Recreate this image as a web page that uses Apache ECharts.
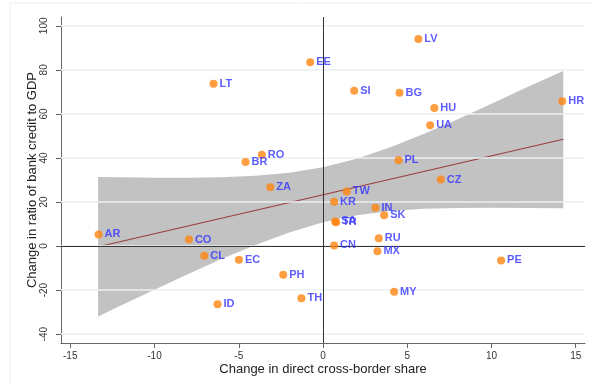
<!DOCTYPE html>
<html><head><meta charset="utf-8">
<script src="https://cdn.jsdelivr.net/npm/echarts@6/dist/echarts.min.js"></script>
<style>html,body{margin:0;padding:0;background:#fff}#c{width:592px;height:383px}</style>
</head><body><div id="c"></div>
<script>
const countries = ['LT','LV','EE','SI','BG','HU','UA','HR','RO','BR','PL','CZ','ZA','TW','KR','IN','SK','SA','TR','AR','CO','RU','CN','CL','MX','EC','PE','PH','MY','TH','ID'];
const xs = [-6.5,5.66,-0.76,1.85,4.54,6.61,6.36,14.2,-3.63,-4.6,4.48,6.99,-3.13,1.41,0.66,3.11,3.63,0.72,0.78,-13.32,-7.96,3.31,0.66,-7.05,3.23,-4.99,10.57,-2.36,4.22,-1.28,-6.26];
const ys = [73.7,94.0,83.5,70.5,69.6,62.7,54.8,65.7,41.5,38.2,39.0,30.2,26.7,24.8,20.1,17.4,14.0,11.2,10.8,5.3,3.0,3.5,0.3,-4.4,-2.4,-6.2,-6.5,-13.0,-20.7,-23.7,-26.4];
const fitX = [-13.35, 14.26];
const fitY = [-0.3, 48.5];
const bandX = [-13.35,-12,-10,-8,-6,-4,-2,0,2,4,6,8,10,12,14.26];
const bandLower = [-32.0,-27.0,-19.8,-12.7,-5.8,0.5,6.2,10.8,14.0,15.9,16.9,17.3,17.4,17.3,17.2];
const bandUpper = [31.4,31.2,31.0,31.0,31.2,31.9,33.3,35.8,39.7,44.9,51.0,57.6,64.6,71.8,79.5];
const xTicks = [-15,-10,-5,0,5,10,15];
const yTicks = [-40,-20,0,20,40,60,80,100];

const chart = echarts.init(document.getElementById('c'));
const font = 'Liberation Sans, Arial, Helvetica, sans-serif';
chart.setOption({
  animation: false,
  backgroundColor: '#fff',
  graphic: [{type:'rect', shape:{x:10, y:3, width:700, height:500}, style:{fill:'none', stroke:'#e9eff1', lineWidth:1}, z:-10, silent:true}],
  grid: {left:61, right:7, top:17, bottom:40, containLabel:false},
  xAxis: {
    type:'value', min:-15.55, max:15.55,
    name:'Change in direct cross-border share', nameLocation:'middle', nameGap:20,
    nameMoveOverlap:false,
    nameTextStyle:{fontFamily:font, fontSize:13, color:'#222'},
    axisLine:{show:true, onZero:false, lineStyle:{color:'#666', width:1}},
    axisTick:{show:true, length:5, customValues:xTicks, lineStyle:{color:'#666'}},
    axisLabel:{customValues:xTicks, fontFamily:font, fontSize:10, color:'#333', margin:8},
    splitLine:{show:false}
  },
  yAxis: {
    type:'value', min:-44, max:104,
    name:'Change in ratio of bank credit to GDP', nameLocation:'middle', nameGap:22,
    nameMoveOverlap:false,
    nameTextStyle:{fontFamily:font, fontSize:13, color:'#222'},
    axisLine:{show:true, onZero:false, lineStyle:{color:'#666', width:1}},
    axisTick:{show:true, length:5, customValues:yTicks, lineStyle:{color:'#666'}},
    axisLabel:{customValues:yTicks, rotate:90, fontFamily:font, fontSize:10, color:'#333', margin:12},
    splitLine:{show:false}
  },
  series: [
    {type:'line', data:[], z:1, silent:true,
     markLine:{silent:true, symbol:'none', label:{show:false}, animation:false,
       lineStyle:{color:'#e8f0f2', width:1.5, type:'solid'},
       data: yTicks.map(v => ({yAxis:v}))}},
    {type:'line', data:[], z:2, silent:true,
     markLine:{silent:true, symbol:'none', label:{show:false}, animation:false,
       lineStyle:{color:'#333', width:1, type:'solid'},
       data:[{xAxis:0},{yAxis:0}]}},
    {type:'custom', z:3, silent:true, data:[0],
     renderItem: function(params, api){
       const pts = [];
       for (let i=0;i<bandX.length;i++) pts.push(api.coord([bandX[i], bandUpper[i]]));
       for (let i=bandX.length-1;i>=0;i--) pts.push(api.coord([bandX[i], bandLower[i]]));
       return {type:'polygon', shape:{points:pts}, style:{fill:'#c2c2c2'}};
     }},
    {type:'line', z:4, silent:true, symbol:'none',
     data: fitX.map((x,i)=>[x, fitY[i]]),
     lineStyle:{color:'#9a3c3c', width:1.2}},
    {type:'scatter', z:5, symbolSize:8,
     itemStyle:{color:'#ff8412'},
     data: countries.map((c,i)=>({value:[xs[i], ys[i]], name:c})),
     label:{show:true, position:'right', distance:2, formatter:p=>p.name,
       fontFamily:font, fontSize:11, fontWeight:'bold', color:'#3535ff'}}
  ]
});
</script></body></html>
